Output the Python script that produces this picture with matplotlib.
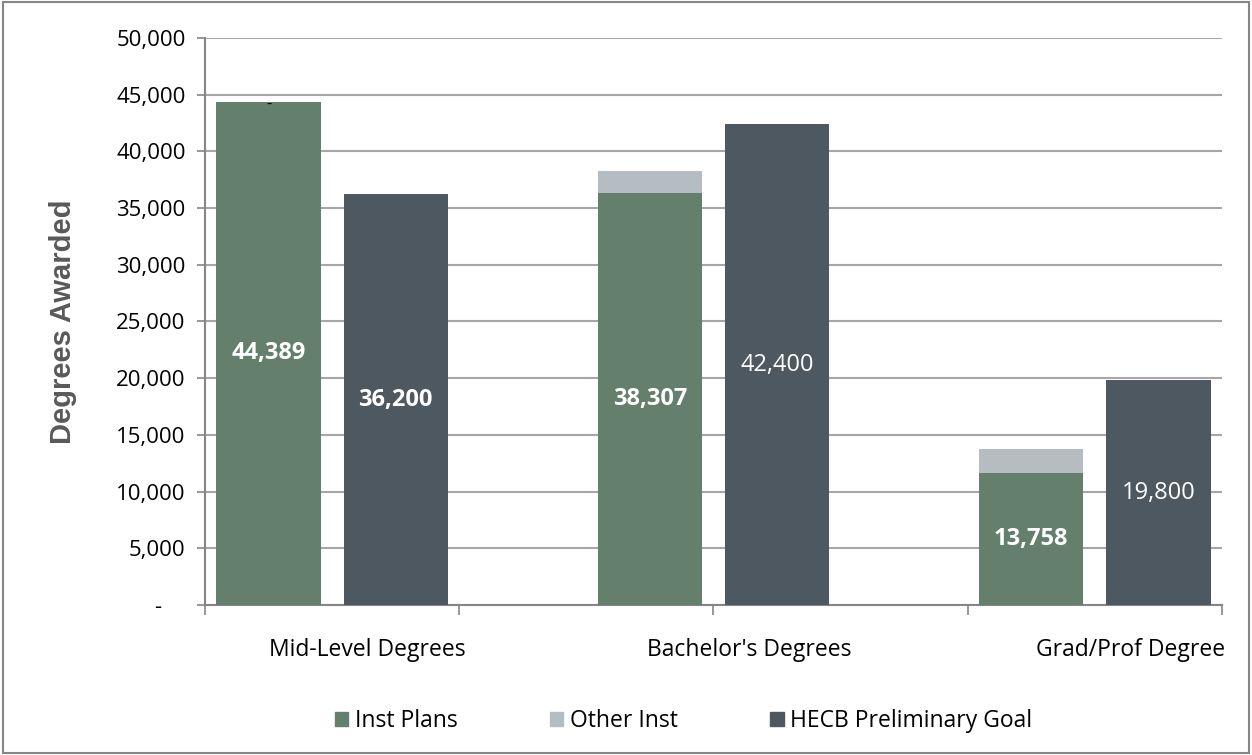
import matplotlib
matplotlib.use("Agg")
import matplotlib.pyplot as plt
from matplotlib.ticker import FuncFormatter, MultipleLocator
from matplotlib.patches import Patch, Rectangle

categories = ["Mid-Level Degrees", "Bachelor's Degrees", "Grad/Prof Degree"]
inst_plans = [44389, 36300, 11600]
other_inst = [0, 2007, 2158]
hecb_goal = [36200, 42400, 19800]
hecb_bold = [True, False, False]

GREEN = "#64806C"
LIGHT = "#B5BDC2"
DARK = "#4E5860"
GRID = "#A6A6A6"
FONT = "Open Sans"

fig = plt.figure(figsize=(12.52, 7.55), dpi=100)
ax = fig.add_axes([0.1637, 0.1987, 0.976 - 0.1637, 0.9497 - 0.1987])

fig.patches.append(Rectangle((0.002, 0.003), 0.996, 0.994, transform=fig.transFigure,
                             fill=False, edgecolor="#868686", linewidth=1.5))

group_centers = [1 + 3 * i for i in range(len(categories))]
x_inst = [c - 0.5 for c in group_centers]
x_goal = [c + 0.5 for c in group_centers]
w = 0.82

ax.bar(x_inst, inst_plans, width=w, color=GREEN, zorder=3, label="Inst Plans")
ax.bar(x_inst, other_inst, width=w, bottom=inst_plans, color=LIGHT, zorder=3, label="Other Inst")
ax.bar(x_goal, hecb_goal, width=w, color=DARK, zorder=3, label="HECB Preliminary Goal")

for i in range(len(categories)):
    total = inst_plans[i] + other_inst[i]
    ax.text(x_inst[i], inst_plans[i] / 2, f"{total:,}", ha="center", va="center",
            color="white", fontsize=17, fontweight="bold", family=FONT, zorder=4)
    if other_inst[i] == 0:
        ax.text(x_inst[i], inst_plans[i] - 300, "-", ha="center", va="center",
                color="black", fontsize=12, family=FONT, zorder=4)
    ax.text(x_goal[i], hecb_goal[i] / 2, f"{hecb_goal[i]:,}", ha="center", va="center",
            color="white", fontsize=17, fontweight="bold" if hecb_bold[i] else "normal",
            family=FONT, zorder=4)
    ax.text(group_centers[i] + 0.28, -4000, categories[i], ha="center", va="center",
            fontsize=16.5, family=FONT, color="black")

ax.set_xlim(0, 8)
ax.set_ylim(0, 50000)
ax.yaxis.set_major_locator(MultipleLocator(5000))
ax.yaxis.set_major_formatter(FuncFormatter(lambda v, p: "-    " if v == 0 else f"{int(v):,}"))
ax.set_xticks([0, 2, 4, 6, 8])
ax.set_xticklabels([])
ax.tick_params(axis="x", direction="out", length=7, width=1.2, color="#868686")
ax.tick_params(axis="y", direction="out", length=6, width=1.2, color="#868686",
               labelsize=16, pad=8)
for lab in ax.get_yticklabels():
    lab.set_family(FONT)

ax.grid(axis="y", color=GRID, linewidth=1.5, zorder=0)
for s in ["top", "right"]:
    ax.spines[s].set_visible(False)
for s in ["left", "bottom"]:
    ax.spines[s].set_color("#868686")
    ax.spines[s].set_linewidth(1.5)

ax.set_ylabel("Degrees Awarded", fontsize=21, fontweight="bold", color="#595959",
              family="Liberation Sans", labelpad=28)

handles = [Patch(color=GREEN), Patch(color=LIGHT), Patch(color=DARK)]
fig.legend(handles, ["Inst Plans", "Other Inst", "HECB Preliminary Goal"],
           loc="center", bbox_to_anchor=(0.546, 0.045), ncol=3, frameon=False,
           prop={"family": FONT, "size": 16.5}, handlelength=0.6, handleheight=0.6,
           handletextpad=0.3, columnspacing=4.0)

fig.savefig("out.png", dpi=100)
